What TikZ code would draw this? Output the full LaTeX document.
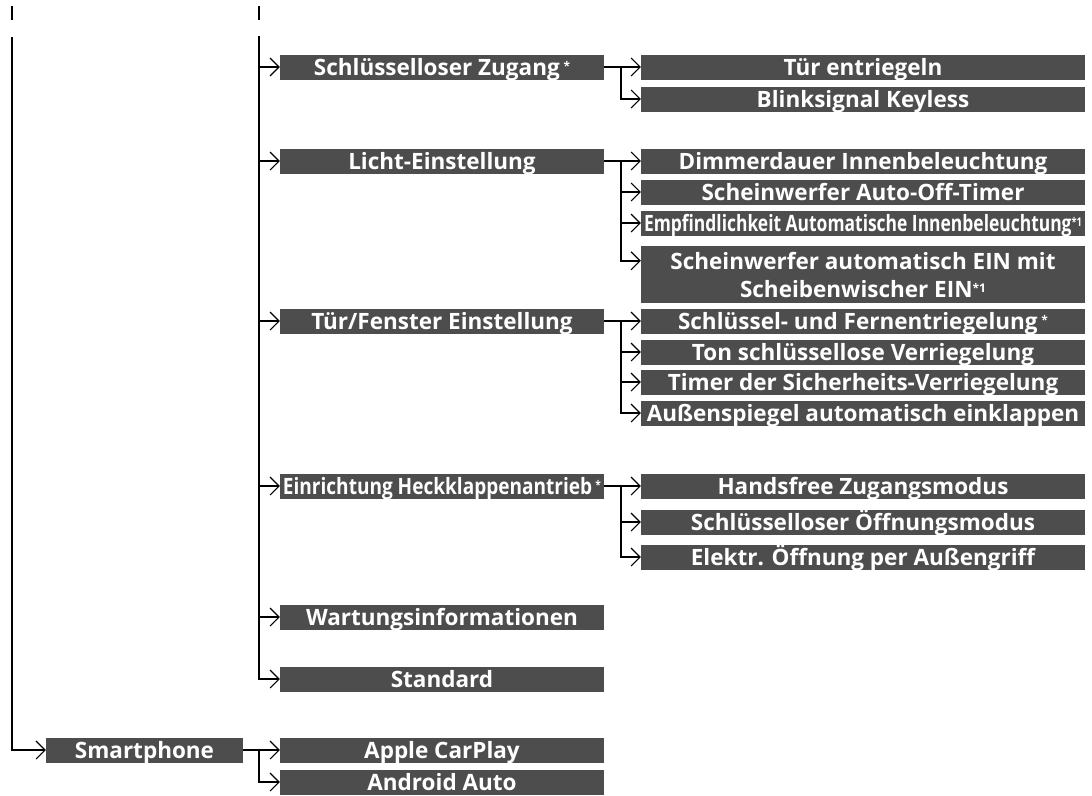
\documentclass[tikz,border=0pt]{standalone}
\usepackage{fontspec}
\setmainfont{Open Sans}
\usepackage{graphicx}
\usetikzlibrary{arrows.meta}
\definecolor{boxgray}{RGB}{77,77,77}
\newcommand\mystar{\,{\fontsize{12}{12}\selectfont\raisebox{5pt}{*}}}
\newcommand\mystarone{{\fontsize{12}{12}\selectfont\raisebox{5pt}{*1}}}
\begin{document}
\begin{tikzpicture}[x=1pt,y=-1pt,
  basebox/.style={fill=boxgray,text=white,font=\fontsize{22.5}{28}\selectfont\bfseries,inner sep=0pt,anchor=center},
  menubox/.style={basebox,minimum height=25pt,text height=19pt,text depth=3pt},
  col1/.style={menubox,minimum width=197pt},
  col2/.style={menubox,minimum width=324pt},
  col3/.style={menubox,minimum width=444pt},
  link/.style={line width=2pt,-{Straight Barb[length=9pt,width=18pt,line width=1.1pt]}},
  plain/.style={line width=2pt}]
\useasboundingbox (0,0) rectangle (1092,795);

% top ticks
\draw[plain] (12,6) -- (12,20);
\draw[plain] (259,6) -- (259,20);

% column 2
\node[col2] (szug) at (442,67) {Schlüsselloser Zugang\mystar};
\node[col2] (licht) at (442,161) {Licht-Einstellung};
\node[col2] (tuer) at (442,321) {Tür/Fenster Einstellung};
\node[col2] (heck) at (442,486) {\resizebox{318pt}{\height}{Einrichtung Heckklappenantrieb\mystar}};
\node[col2] (wart) at (442,617) {Wartungsinformationen};
\node[col2] (std) at (442,679) {Standard};

% column 3
\node[col3] (tent) at (863,67) {Tür entriegeln};
\node[col3] (blink) at (863,99) {Blinksignal Keyless};
\node[col3] (dimm) at (863,161) {Dimmerdauer Innenbeleuchtung};
\node[col3] (aoff) at (863,192) {Scheinwerfer Auto-Off-Timer};
\node[col3] (empf) at (863,223) {\resizebox{438pt}{\height}{Empfindlichkeit Automatische Innenbeleuchtung\mystarone}};
\node[basebox,minimum width=444pt,minimum height=57pt,align=center] (wisch) at (863,274.5) {Scheinwerfer automatisch EIN mit\\Scheibenwischer EIN\mystarone};
\node[col3] (fern) at (863,321) {Schlüssel- und Fernentriegelung\mystar};
\node[col3] (ton) at (863,352) {Ton schlüssellose Verriegelung};
\node[col3] (timer) at (863,382) {Timer der Sicherheits-Verriegelung};
\node[col3] (spieg) at (863,413) {Außenspiegel automatisch einklappen};
\node[col3] (hands) at (863,486) {Handsfree Zugangsmodus};
\node[col3] (oeff) at (863,522) {Schlüsselloser Öffnungsmodus};
\node[col3] (elek) at (863,557) {Elektr. Öffnung per Außengriff};

% smartphone
\node[col1] (smart) at (144.5,750) {Smartphone};
\node[col2] (apple) at (442,750) {Apple CarPlay};
\node[col2] (andr) at (442,782) {Android Auto};

% trunk connectors
\coordinate (v1top) at (12,37);
\coordinate (v2top) at (259,36);
\draw[link] (v1top) |- (smart.west);
\foreach \n in {szug,licht,tuer,heck,wart,std}
  \draw[link] (v2top) |- (\n.west);

% group connectors
\draw[link] (szug.east) -- (tent.west);
\draw[link] ([xshift=17pt]szug.east) |- (blink.west);

\draw[link] (licht.east) -- (dimm.west);
\foreach \n in {aoff,empf}
  \draw[link] ([xshift=17pt]licht.east) |- (\n.west);
\draw[link] ([xshift=17pt]licht.east) |- ([yshift=-15pt]wisch.north west);

\draw[link] (tuer.east) -- (fern.west);
\foreach \n in {ton,timer,spieg}
  \draw[link] ([xshift=17pt]tuer.east) |- (\n.west);

\draw[link] (heck.east) -- (hands.west);
\foreach \n in {oeff,elek}
  \draw[link] ([xshift=17pt]heck.east) |- (\n.west);

\draw[link] (smart.east) -- (apple.west);
\draw[link] ([xshift=16pt]smart.east) |- (andr.west);
\end{tikzpicture}
\end{document}
